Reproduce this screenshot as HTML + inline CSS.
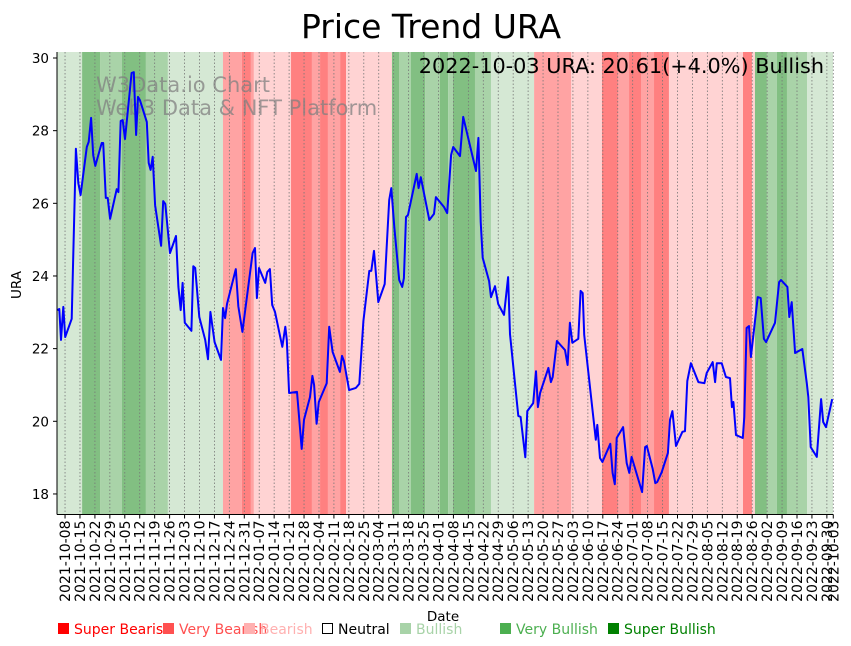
<!DOCTYPE html>
<html><head><meta charset="utf-8"><style>
html,body{margin:0;padding:0;background:#fff;}
svg{display:block;font-family:"DejaVu Sans","Liberation Sans",sans-serif;}
</style></head><body>
<svg id="chart" width="851" height="646" viewBox="0 0 851 646" xmlns="http://www.w3.org/2000/svg">
<text x="431" y="38" font-size="33" text-anchor="middle" fill="#000">Price Trend URA</text>
<g id="bands"></g>
<g id="grid"></g>
<text x="96" y="92" font-size="21" fill="#808080" fill-opacity="0.75">W3Data.io Chart</text>
<text x="96" y="115" font-size="21" fill="#808080" fill-opacity="0.75">Web3 Data &amp; NFT Platform</text>
<path id="line" fill="none" stroke="#0000ff" stroke-width="2" stroke-linejoin="round"/>
<text x="824" y="73" font-size="20.8" text-anchor="end" fill="#000">2022-10-03 URA: 20.61(+4.0%) Bullish</text>
<line x1="57" y1="52" x2="57" y2="514.5" stroke="#000" stroke-width="1"/>
<line x1="57" y1="514.5" x2="833" y2="514.5" stroke="#000" stroke-width="1"/>
<g id="yticks"></g>
<g id="xticks"></g>
<text transform="translate(21,285) rotate(-90)" font-size="13.5" text-anchor="middle">URA</text>
<text x="443" y="621" font-size="13.5" text-anchor="middle">Date</text>
<g font-size="14">
 <g><rect x="58" y="623" width="11" height="11" fill="#ff0000"/><text x="74" y="634" fill="#ff0000">Super Bearish</text></g>
 <g><rect x="163" y="623" width="11" height="11" fill="#ff5050"/><text x="179" y="634" fill="#ff5050">Very Bearish</text></g>
 <g><rect x="244" y="623" width="11" height="11" fill="#ffb0b0"/><text x="260" y="634" fill="#ffb0b0">Bearish</text></g>
 <g><rect x="322.5" y="623.5" width="10" height="10" fill="none" stroke="#000"/><text x="338" y="634" fill="#000">Neutral</text></g>
 <g><rect x="400" y="623" width="11" height="11" fill="#a8d3a8"/><text x="416" y="634" fill="#a8d3a8">Bullish</text></g>
 <g><rect x="500" y="623" width="11" height="11" fill="#4caf50"/><text x="516" y="634" fill="#4caf50">Very Bullish</text></g>
 <g><rect x="608" y="623" width="11" height="11" fill="#008000"/><text x="624" y="634" fill="#008000">Super Bullish</text></g>
</g>
</svg>
<script>
// days since 2021-10-04
const dayOffsets=[0.4,1.3,2.1,3.2,4.1,7.1,9.1,10.2,11.3,14.2,15.1,16.2,17.2,18.2,21.2,21.9,23.1,24.0,25.1,28.2,29.0,30.1,31.0,32.1,34.4,35.2,36.2,37.3,38.2,39.1,42.3,43.2,44.1,45.1,46.2,49.0,50.0,51.0,53.2,56.0,57.1,58.2,59.1,60.1,63.2,64.1,65.0,66.9,69.7,71.0,72.1,74.1,77.1,78.0,79.0,79.9,84.0,85.2,87.1,91.9,93.0,93.9,94.9,97.8,98.8,100.0,101.1,102.4,105.8,107.2,107.9,109.0,112.7,114.9,116.0,118.8,119.9,120.7,121.9,122.9,126.6,127.8,129.4,132.8,133.8,134.7,137.1,140.3,141.9,143.8,146.6,147.5,148.8,150.8,153.8,155.9,156.9,158.3,160.6,162.0,162.8,163.8,164.7,168.8,169.7,170.7,174.7,176.9,177.8,181.6,183.1,184.9,185.9,189.1,190.6,196.6,197.7,198.8,199.7,202.7,203.6,205.5,207.0,209.7,211.6,212.5,216.4,217.5,219.7,220.6,223.4,224.7,225.6,226.6,230.5,231.7,232.5,234.5,238.3,239.5,240.6,241.7,244.5,245.6,246.6,247.3,252.7,253.4,254.7,255.8,259.5,260.6,261.6,262.5,265.5,267.2,268.4,269.5,274.4,275.8,276.6,279.4,280.6,281.5,283.6,286.5,287.5,288.6,290.3,293.3,294.5,295.6,297.3,300.8,303.6,304.7,307.5,308.6,309.4,311.7,313.7,315.6,316.5,317.2,318.4,321.6,322.3,323.4,324.5,325.4,328.6,330.0,331.5,332.5,336.7,338.6,339.5,342.5,343.4,344.5,346.1,349.5,351.6,352.3,353.4,356.3,358.3,359.3,360.6,363.5];
const prices=[23.06,23.09,22.24,23.15,22.32,22.82,27.50,26.56,26.23,27.55,27.69,28.35,27.33,27.03,27.66,27.66,26.15,26.15,25.57,26.39,26.31,28.27,28.29,27.77,29.12,29.59,29.61,27.88,28.93,28.84,28.24,27.11,26.92,27.28,25.95,24.83,26.06,25.98,24.63,25.10,23.70,23.06,23.81,22.71,22.49,24.27,24.22,22.87,22.24,21.71,23.01,22.18,21.69,23.12,22.84,23.23,24.19,23.17,22.46,24.63,24.77,23.39,24.22,23.81,24.11,24.19,23.20,23.01,22.05,22.60,22.24,20.78,20.81,19.24,20.04,20.67,21.25,21.00,19.93,20.53,21.05,22.60,21.91,21.36,21.80,21.66,20.86,20.92,21.03,22.76,24.14,24.14,24.69,23.28,23.78,26.09,26.42,25.35,23.89,23.70,23.94,25.62,25.68,26.81,26.42,26.72,25.54,25.71,26.17,25.90,25.73,27.33,27.55,27.30,28.38,26.89,27.80,25.49,24.50,23.86,23.42,23.72,23.23,22.93,23.97,22.40,20.15,20.12,19.01,20.28,20.50,21.38,20.39,20.78,21.47,21.08,21.22,22.21,21.96,21.55,22.71,22.16,22.27,23.59,23.53,22.38,19.49,19.90,18.99,18.88,19.38,18.58,18.27,19.54,19.84,18.85,18.58,19.02,18.05,19.29,19.32,18.69,18.30,18.33,18.60,19.13,20.04,20.28,19.32,19.71,19.73,21.11,21.60,21.08,21.05,21.33,21.63,21.08,21.60,21.60,21.22,21.19,20.39,20.53,19.62,19.54,20.12,22.57,22.62,21.77,23.42,23.39,22.27,22.18,22.71,23.83,23.89,23.70,22.87,23.28,21.88,21.99,21.05,20.67,19.29,19.02,20.61,19.98,19.84,20.61];
const bandStarts=[0,12,20.4,30.7,41.9,52.2,78,86.9,91.1,92.5,109.9,119.7,123.5,127.2,132.9,135.7,157.2,160.5,166.1,172.7,179.7,183.5,185.8,196.1,203.6,223.8,241.1,255.6,263.1,268.3,273.9,280,287,321.7,325.9,327.3,332.9,337.6,342.3,351.7];
const bandEnds=[12,20.4,30.7,41.9,52.2,78,86.9,91.1,92.5,109.9,119.7,123.5,127.2,132.9,135.7,157.2,160.5,166.1,172.7,179.7,183.5,185.8,196.1,203.6,223.8,241.1,255.6,263.1,268.3,273.9,280,287,321.7,325.9,327.3,332.9,337.6,342.3,351.7,365];
const bandLevels=[1,3,2,3,2,1,-2,-3,-2,-1,-3,-2,-3,-2,-3,-1,3,2,3,2,3,2,3,2,1,-2,-1,-3,-2,-3,-2,-3,-1,-3,-1,3,2,3,2,1];
const yTickValues=[18,20,22,24,26,28,30];
const xTickDays=[];for(let d=4;d<=361;d+=7)xTickDays.push(d);xTickDays.push(364);

const NS="http://www.w3.org/2000/svg";
const L=57,R=833,T=52,B=514.5;
const xs=d=>56.5+d*2.134;
const ys=v=>58+(30-v)*36.33;
const colors={"1":"#d5e8d4","2":"#a9d3a8","3":"#82bf82","-1":"#ffd3d3","-2":"#ffa3a3","-3":"#ff8080"};
function mk(tag,attrs,parent){const e=document.createElementNS(NS,tag);for(const k in attrs)e.setAttribute(k,attrs[k]);parent.appendChild(e);return e;}
const bands=document.getElementById('bands');
bandStarts.forEach((s,i)=>{
  const x0=Math.max(L,xs(s)),x1=Math.min(R,xs(bandEnds[i]));
  const r=mk('rect',{x:x0,y:T,width:Math.max(0,x1-x0),height:B-T,fill:colors[bandLevels[i]]},bands);
  
  
});
const grid=document.getElementById('grid'),xt=document.getElementById('xticks');
const base=new Date(Date.UTC(2021,9,4));
xTickDays.forEach(d=>{
  const x=xs(d);
  const g=mk('line',{x1:x,y1:T,x2:x,y2:B,stroke:'#777',"stroke-width":0.8,"stroke-dasharray":"1.5,2"},grid);
  
  
  const t=mk('line',{x1:x,y1:B,x2:x,y2:B+4,stroke:'#000'},xt);
  
  
  const dt=new Date(base.getTime()+d*86400000);
  const lab=mk('text',{transform:`translate(${x+5},${B+6}) rotate(-90)`,"font-size":14,"text-anchor":"end"},xt);
  lab.textContent=dt.toISOString().slice(0,10);
  
  
});
const yt=document.getElementById('yticks');
yTickValues.forEach(v=>{
  const y=ys(v);
  const t=mk('line',{x1:L-4,y1:y,x2:L,y2:y,stroke:'#000'},yt);
  
  
  const lab=mk('text',{x:L-8,y:y+5,"font-size":13.5,"text-anchor":"end"},yt);
  lab.textContent=v;
  
  
});
document.getElementById('line').setAttribute('d',dayOffsets.map((d,i)=>(i?'L':'M')+xs(d).toFixed(1)+','+ys(prices[i]).toFixed(1)).join(''));
</script>
</body></html>
